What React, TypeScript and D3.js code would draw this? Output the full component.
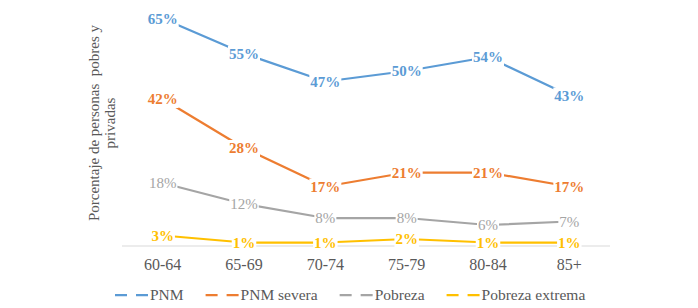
import React from "react";
import * as d3 from "d3";

const categories = ["60-64", "65-69", "70-74", "75-79", "80-84", "85+"];
const seriesNames = ["PNM", "PNM severa", "Pobreza", "Pobreza extrema"];
const pnm = [65, 55, 47, 50, 54, 43];
const pnmSevera = [42, 28, 17, 21, 21, 17];
const pobreza = [18, 12, 8, 8, 6, 7];
const pobrezaExtrema = [3, 1, 1, 2, 1, 1];
const colors = ["#5B9BD5", "#ED7D31", "#A5A5A5", "#FFC000"];
const boldLabels = [true, true, false, true];

const W = 698;
const H = 308;
const FONT = "Liberation Serif";

function measure(text: string, size: number, bold: boolean): number {
  const c = document.createElement("canvas").getContext("2d");
  if (!c) return text.length * size * 0.5;
  c.font = `${bold ? "bold " : ""}${size}px "Liberation Serif"`;
  return c.measureText(text).width;
}

export default function App() {
  const x = d3.scaleBand().domain(categories).range([122, 610]).padding(0);
  const y = d3.scaleLinear().domain([0, 70]).range([246, 1]);
  const cx = (c: string) => (x(c) as number) + x.bandwidth() / 2;
  const allSeries = [pnm, pnmSevera, pobreza, pobrezaExtrema];
  const line = d3.line<number>().x((_, i) => cx(categories[i])).y((d) => y(d));

  const legendSize = 15.5;
  const legendItems: { name: string; x: number; color: string }[] = [];
  let lx = 115;
  seriesNames.forEach((name, si) => {
    legendItems.push({ name, x: lx, color: colors[si] });
    lx = lx + 35 + measure(name, legendSize, false) + 22;
  });

  return (
    <svg
      width={W}
      height={H}
      style={{ position: "absolute", left: 0, top: 0, background: "white", fontFamily: FONT }}
    >
      <line x1={122} x2={610} y1={y(0)} y2={y(0)} stroke="#D9D9D9" strokeWidth={1} />
      {categories.map((c) => (
        <text key={c} x={cx(c)} y={270} textAnchor="middle" fontSize={16} fill="#595959" style={{ fontFamily: FONT }}>
          {c}
        </text>
      ))}
      <text transform="translate(99,123) rotate(-90)" textAnchor="middle" fontSize={15} fill="#595959" style={{ fontFamily: FONT }}>
        <tspan x={0} y={0}>{"Porcentaje de personas\u00a0\u00a0pobres y"}</tspan>
        <tspan x={0} y={16}>privadas</tspan>
      </text>
      {allSeries.map((vals, si) => (
        <path
          key={si}
          d={line(vals) as string}
          fill="none"
          stroke={colors[si]}
          strokeWidth={2.25}
          strokeLinejoin="round"
          strokeLinecap="round"
        />
      ))}
      {allSeries.map((vals, si) =>
        vals.map((v, i) => {
          const px = cx(categories[i]);
          const py = y(v);
          const label = `${v}%`;
          const w = measure(label, 15, boldLabels[si]);
          return (
            <g key={`${si}-${i}`}>
              <rect x={px - w / 2 - 1} y={py - 8} width={w + 2} height={17} fill="white" />
              <text
                x={px}
                y={py + 5}
                textAnchor="middle"
                fontSize={15}
                fontWeight={boldLabels[si] ? "bold" : "normal"}
                fill={colors[si]}
                style={{ fontFamily: FONT }}
              >
                {label}
              </text>
            </g>
          );
        })
      )}
      {legendItems.map((it) => (
        <g key={it.name}>
          <line
            x1={it.x}
            x2={it.x + 34}
            y1={295}
            y2={295}
            stroke={it.color}
            strokeWidth={2.25}
            strokeDasharray="12 9"
          />
          <text x={it.x + 35} y={300} fontSize={legendSize} fill="#595959" style={{ fontFamily: FONT }}>
            {it.name}
          </text>
        </g>
      ))}
    </svg>
  );
}
